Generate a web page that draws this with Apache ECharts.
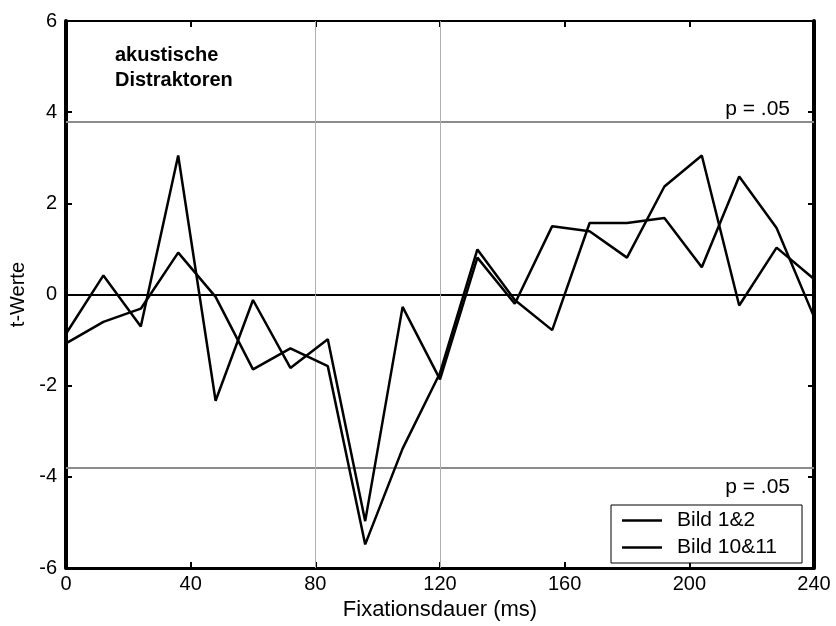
<!DOCTYPE html>
<html>
<head>
<meta charset="utf-8">
<script src="https://cdn.jsdelivr.net/npm/echarts@6/dist/echarts.min.js"></script>
<style>
html,body{margin:0;padding:0;background:#fff;}
#chart{width:836px;height:626px;}
</style>
</head>
<body>
<div id="chart"></div>
<script>
const xValues = [0, 12, 24, 36, 48, 60, 72, 84, 96, 108, 120, 132, 144, 156, 168, 180, 192, 204, 216, 228, 240];
const bild12 = [-0.86, 0.42, -0.70, 3.05, -2.33, -0.12, -1.61, -0.98, -4.97, -0.27, -1.86, 0.81, -0.20, 1.50, 1.39, 0.81, 2.37, 3.05, -0.24, 1.03, 0.34];
const bild1011 = [-1.07, -0.60, -0.31, 0.92, -0.05, -1.64, -1.18, -1.57, -5.48, -3.38, -1.72, 0.99, -0.12, -0.78, 1.57, 1.57, 1.68, 0.60, 2.59, 1.46, -0.49];
const seriesNames = ['Bild 1&2', 'Bild 10&11'];
const pThreshold = 3.8;
const pLabel = 'p = .05';
const vLines = [80, 120];
const xTicks = {min: 0, max: 240, interval: 40};
const yTicks = {min: -6, max: 6, interval: 2};
const annotation = ['akustische', 'Distraktoren'];
const xName = 'Fixationsdauer (ms)';
const yName = 't-Werte';

const FONT = 'Liberation Sans, Arial, sans-serif';
const chart = echarts.init(document.getElementById('chart'), null, {renderer: 'canvas'});

function pairs(ys) { return xValues.map((x, i) => [x, ys[i]]); }

const option = {
  backgroundColor: '#fff',
  animation: false,
  textStyle: {fontFamily: FONT},
  grid: {left: 66, right: 22, top: 21, bottom: 52, show: false},
  legend: {
    data: seriesNames,
    orient: 'vertical',
    left: 611, top: 505,
    padding: [5, 25, 5, 11],
    itemWidth: 40, itemHeight: 14, itemGap: 6,
    borderColor: '#000', borderWidth: 1,
    backgroundColor: '#fff',
    textStyle: {fontFamily: FONT, fontSize: 21, color: '#000', padding: [0, 0, 0, 10], lineHeight: 20},
    icon: 'path://M0,0 L40,0 L40,2.5 L0,2.5 Z',
    itemStyle: {color: '#000'}
  },
  xAxis: [{
    type: 'value', min: xTicks.min, max: xTicks.max, interval: xTicks.interval,
    position: 'bottom',
    name: xName, nameLocation: 'middle', nameGap: 24,
    nameTextStyle: {fontFamily: FONT, fontSize: 22, color: '#000'},
    axisLine: {show: true, onZero: false, lineStyle: {color: '#000', width: 3}},
    axisTick: {show: true, inside: true, length: 6, lineStyle: {color: '#000', width: 2}},
    axisLabel: {fontFamily: FONT, fontSize: 20, color: '#000', margin: 6},
    splitLine: {show: false}
  }, {
    type: 'value', min: xTicks.min, max: xTicks.max, interval: xTicks.interval,
    position: 'top',
    axisLine: {show: true, onZero: false, lineStyle: {color: '#000', width: 2}},
    axisTick: {show: true, inside: true, length: 6, lineStyle: {color: '#000', width: 2}},
    axisLabel: {show: false},
    splitLine: {show: false}
  }],
  yAxis: [{
    type: 'value', min: yTicks.min, max: yTicks.max, interval: yTicks.interval,
    position: 'left',
    name: yName, nameLocation: 'middle', nameGap: 24, nameRotate: 90,
    nameTextStyle: {fontFamily: FONT, fontSize: 20, color: '#000'},
    axisLine: {show: true, onZero: false, lineStyle: {color: '#000', width: 4}},
    axisTick: {show: true, inside: true, length: 6, lineStyle: {color: '#000', width: 2}},
    axisLabel: {fontFamily: FONT, fontSize: 20, color: '#000', margin: 9},
    splitLine: {show: false}
  }, {
    type: 'value', min: yTicks.min, max: yTicks.max, interval: yTicks.interval,
    position: 'right',
    axisLine: {show: true, onZero: false, lineStyle: {color: '#000', width: 4}},
    axisTick: {show: true, inside: true, length: 6, lineStyle: {color: '#000', width: 2}},
    axisLabel: {show: false},
    splitLine: {show: false}
  }],
  graphic: [{
    type: 'text', left: 115, top: 43, z: 100,
    style: {text: annotation.join('\n'), font: 'bold 20px ' + FONT, fill: '#000', lineHeight: 25}
  }],
  series: [{
    name: seriesNames[0], type: 'line', data: pairs(bild12),
    symbol: 'none', lineStyle: {color: '#000', width: 2.5}, itemStyle: {color: '#000'}, z: 5,
    markLine: {
      silent: true, symbol: ['none', 'none'], animation: false,
      data: [
        {yAxis: 0, lineStyle: {color: '#000', width: 2, type: 'solid'}, label: {show: false}},
        {yAxis: pThreshold, lineStyle: {color: '#8c8c8c', width: 2, type: 'solid'},
          label: {show: true, position: 'insideEndTop', formatter: pLabel, fontFamily: FONT, fontSize: 21, color: '#000', padding: [0, 22, 0, 0], distance: 2}},
        {yAxis: -pThreshold, lineStyle: {color: '#8c8c8c', width: 2, type: 'solid'},
          label: {show: true, position: 'insideEndBottom', formatter: pLabel, fontFamily: FONT, fontSize: 21, color: '#000', padding: [0, 15, 0, 0], distance: 9}}
      ].concat(vLines.map(v => ({xAxis: v, lineStyle: {color: '#b0b0b0', width: 1, type: 'solid'}, label: {show: false}})))
    }
  }, {
    name: seriesNames[1], type: 'line', data: pairs(bild1011),
    symbol: 'none', lineStyle: {color: '#000', width: 2.5}, itemStyle: {color: '#000'}, z: 5
  }]
};
chart.setOption(option);
</script>
</body>
</html>
